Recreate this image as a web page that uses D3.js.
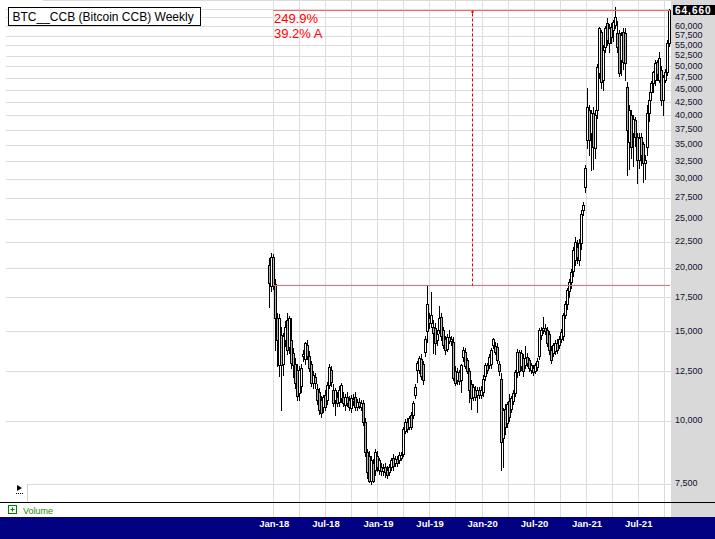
<!DOCTYPE html>
<html><head><meta charset="utf-8">
<script src="https://cdn.jsdelivr.net/npm/d3@7"></script>
<style>html,body{margin:0;padding:0;background:#fff;overflow:hidden}</style>
</head><body>
<svg id="c" width="715" height="539"></svg>
<script>
// ---------------- data ----------------
const title = "BTC__CCB (Bitcoin CCB) Weekly";
const firstWeek = Date.UTC(2017, 11, 18);   // weekly bars, Monday dates
const opens = [
20300,18400,21000,18600,15950,12850,14750,12900,14400,15800,
13950,14400,13600,12950,12600,11350,11700,13400,13200,14100,
13400,12900,11850,12200,11550,11400,11000,10650,11250,11000,
11750,12600,11500,11000,11150,10900,11100,11150,10750,11150,
11000,10600,11050,11150,10650,10900,10650,10850,9950,8650,
8500,7600,8250,8000,8500,8000,8100,7950,8100,8000,
7900,8100,8450,8250,8400,8350,8450,8600,9550,9950,
9700,10250,10250,11250,12600,12600,13200,12900,13650,15000,
15900,15600,15300,15200,14400,15100,16000,15100,14500,13850,
14600,14350,14300,12550,12000,12450,12000,13350,13650,13150,
12550,11800,11150,11500,11250,11500,11250,11400,12250,12850,
12850,12900,14100,14000,13950,12950,12050,9250,10550,9900,
10950,10550,10950,11350,12450,13650,12800,13300,12850,13350,
13150,12600,12700,12550,12750,13400,14750,15100,15250,15100,
14850,13800,13600,13700,14250,14100,14500,14650,16150,17000,
18000,18800,19700,20700,22000,20700,22400,26000,28900,35800,
41000,37000,40400,34500,41000,48500,58500,47000,54700,60900,
55500,59800,59000,60400,58300,58200,51500,58400,58200,45500,
35400,40100,37000,39200,36300,32700,36300,35100,32200,34700,
40400,44500,46300,47000,51000,47000,49200,42900,47000,48700,
55600];
const highs = [
20900,21400,21300,19000,16300,16200,15300,14900,15700,16300,
16100,15900,13900,13300,12900,12800,12900,13800,14300,14400,
13700,13100,12500,12400,11800,11600,11200,11250,11500,11900,
12950,12800,11800,11600,11400,11700,11850,11400,11300,11400,
11200,11250,11300,11400,11050,11100,11000,11000,10100,8800,
8700,8500,8400,8800,8700,8450,8250,8200,8250,8150,
8200,8450,8600,8500,8500,8650,8650,9700,10050,10100,
10200,10400,10950,11800,13100,13400,13500,13100,14700,18500,
16300,17900,15800,15600,15100,16800,16300,15300,14700,14800,
15100,14700,14600,12800,12700,12600,12900,13950,13900,13300,
12700,12000,11800,11700,11650,11650,11700,12300,13000,13000,
13500,13900,14550,14300,14200,13100,12400,10600,10800,10900,
11300,11200,11500,12600,13850,13800,13750,13500,14050,13600,
13300,13000,12850,13000,13300,15200,15300,16000,15500,15300,
15000,14000,14200,14400,14500,14700,15150,16300,17200,18300,
19000,19900,22000,23000,22700,22800,26000,27000,32000,45300,
42000,41000,41500,41000,50500,59800,59000,55000,60000,62300,
60500,61000,61800,65500,61500,59000,58500,59500,59500,46500,
42000,41000,40000,39800,37000,37000,37000,35500,33500,42000,
44500,46800,49000,51500,51500,53500,50000,48000,49500,56500,
64900];
const lows = [
16750,18000,18200,13800,12800,12250,10500,12300,14000,13500,
13600,12700,12200,11600,11000,11000,11400,13100,12900,13200,
12500,11700,11600,11600,10800,10300,10150,10400,10500,10800,
11600,11700,10700,10250,10700,10700,10900,10700,10500,10700,
10500,10400,10750,10500,10500,10600,10500,9800,8500,7700,
7550,7500,7550,7800,7950,7850,7800,7800,7750,7700,
7800,8000,8000,8150,8150,8250,8350,8500,9450,9500,
9600,9600,10100,11100,11900,12400,12100,11800,13400,14300,
15200,15300,13600,13500,14100,14900,14400,13900,13500,13700,
14200,14100,12000,11750,11800,11800,11400,13100,12700,12400,
10900,10550,11000,11000,10400,11100,11100,11200,12000,12400,
12700,12700,13900,13500,13000,12300,8000,8100,9400,9700,
10000,10400,10800,11200,12200,12300,12600,12250,12700,12800,
12500,12400,12300,12400,12600,13200,14500,14900,14800,14000,
13500,13000,13400,13500,13600,13900,14300,14400,15900,16600,
17500,18300,19300,20300,20500,20300,21800,25500,28200,34500,
33400,31200,31400,33000,39500,47500,45300,45000,53500,55000,
53500,55500,56000,59500,53500,47900,48000,49500,47000,30500,
31300,33000,31800,34800,29400,31500,32000,29600,30000,33500,
39000,43000,44500,46000,47000,46500,42000,40100,46500,48000,
54800];
const closes = [
18700,21000,18500,15950,14400,15900,12850,14700,15300,13800,
15900,13000,12850,11850,11200,12600,12700,13500,14200,13400,
12700,11850,12300,11850,11000,10500,10350,11150,10650,11750,
12750,11900,10850,11500,10850,11500,11750,10850,11150,10850,
10650,11100,10950,10650,10900,10700,10850,9950,8650,7900,
7600,8350,7600,8650,8100,8350,7950,8050,7900,7800,
8100,8350,8150,8400,8250,8550,8550,9600,9950,9600,
10100,9700,10850,11650,13000,13300,12250,12000,14500,17000,
15600,16150,14900,14250,14850,15950,14700,14100,13800,14600,
14350,14500,12150,11850,12450,11950,12850,13750,12800,12550,
11500,11100,11650,11150,11500,11250,11500,12100,12850,12600,
13350,13750,14500,13650,13150,12500,9050,10500,9700,10800,
10150,11100,11350,12450,13650,12550,13600,12550,13300,13000,
12700,12850,12450,12850,13100,15100,15100,15250,15000,14200,
13800,13150,14100,14250,13800,14500,14950,16150,16950,18100,
18800,19650,21700,22500,21000,22400,25600,26600,31500,41500,
35800,40400,34600,40100,49900,59500,46600,53900,59500,56400,
59600,57100,61100,62700,54700,48500,57700,51000,50800,37400,
41000,34600,39300,36300,32700,36100,33400,32200,32650,40400,
42900,46300,48800,50800,48200,51900,42900,47700,48700,55600,
64660];
const gridValues = [7500,10000,12500,15000,17500,20000,22500,25000,27500,30000,
  32500,35000,37500,40000,42500,45000,47500,50000,52500,55000,57500,60000,62500,65000];
const yLabelValues = [7500,10000,12500,15000,17500,20000,22500,25000,27500,30000,
  32500,35000,37500,40000,42500,45000,47500,50000,52500,55000,57500,60000];
const xLabelDates = [Date.UTC(2018,0,1),Date.UTC(2018,6,1),Date.UTC(2019,0,1),Date.UTC(2019,6,1),
  Date.UTC(2020,0,1),Date.UTC(2020,6,1),Date.UTC(2021,0,1),Date.UTC(2021,6,1)];
const lastPrice = 64660;
const measureLow = 18479;
const measureText = ["249.9%", "39.2% A"];
const volumeLabel = "Volume";

// ---------------- layout ----------------
const W = 715, H = 539;
const plotRight = 671, panelBottom = 502, volBottom = 517;
const svg = d3.select("#c");
const FONT = "'Liberation Sans', Arial, sans-serif";

const x = d3.scaleUtc().domain([Date.UTC(2018,0,1), Date.UTC(2021,6,1)]).range([273.3, 637.7]);
const y = d3.scaleLog().domain([10000, 20000]).range([420.5, 268]);
const crisp = v => Math.round(v) + 0.5;

const bars = closes.map((c, i) => ({
  date: new Date(firstWeek + i * 7 * 86400000),
  o: opens[i], h: highs[i], l: lows[i], c: c
}));

svg.append("rect").attr("width", W).attr("height", H).attr("fill", "#fff");
// right price panel
svg.append("rect").attr("x", plotRight).attr("y", 0).attr("width", W - plotRight)
  .attr("height", volBottom).attr("fill", "#d9d9d9");

// horizontal gridlines
const g = svg.append("g");
g.selectAll("line.h").data(gridValues).join("line")
  .attr("x1", 6).attr("x2", plotRight)
  .attr("y1", d => crisp(y(d))).attr("y2", d => crisp(y(d)))
  .attr("stroke", "#dcdcdc").attr("stroke-width", 1);
g.append("line").attr("x1", 43).attr("x2", plotRight).attr("y1", 0.5).attr("y2", 0.5)
  .attr("stroke", "#dcdcdc");

// vertical quarterly gridlines
const quarters = d3.utcMonth.every(3).range(new Date(Date.UTC(2018,0,1)), new Date(Date.UTC(2021,11,1)));
g.selectAll("line.v").data(quarters).join("line")
  .attr("x1", d => crisp(x(d))).attr("x2", d => crisp(x(d)))
  .attr("y1", 0).attr("y2", volBottom)
  .attr("stroke", "#dcdcdc").attr("stroke-width", 1);

// candles
const cg = svg.append("g");
bars.forEach(b => {
  const a = Math.round(x(b.date)) - 1;
  cg.append("line")
    .attr("x1", a + 1.5).attr("x2", a + 1.5)
    .attr("y1", Math.round(y(b.h))).attr("y2", Math.round(y(b.l)) + 1)
    .attr("stroke", "#000").attr("stroke-width", 1);
});
bars.forEach(b => {
  const a = Math.round(x(b.date)) - 1;
  const t = Math.round(y(Math.max(b.o, b.c))) + 0.5;
  const bt = Math.round(y(Math.min(b.o, b.c))) + 0.5;
  cg.append("rect")
    .attr("x", a + 0.5).attr("width", 2)
    .attr("y", t).attr("height", Math.max(bt - t, 1))
    .attr("fill", b.c >= b.o ? "#ffffff" : "#b4b4b4")
    .attr("stroke", "#000").attr("stroke-width", 1);
});

// measurement lines
const mx0 = 273, mx1 = plotRight - 1;
const yTop = crisp(y(lastPrice)), yLow = crisp(y(measureLow));
svg.append("line").attr("x1", mx0).attr("x2", mx1).attr("y1", yTop).attr("y2", yTop)
  .attr("stroke", "#f06a6a").attr("stroke-width", 1);
svg.append("line").attr("x1", mx0).attr("x2", mx1).attr("y1", yLow).attr("y2", yLow)
  .attr("stroke", "#f06a6a").attr("stroke-width", 1);
const mid = crisp((mx0 + mx1) / 2);
svg.append("line").attr("x1", mid).attr("x2", mid).attr("y1", yTop + 3).attr("y2", yLow)
  .attr("stroke", "#e00000").attr("stroke-width", 1).attr("stroke-dasharray", "3,2");
svg.append("path").attr("d", `M${mid-1.5},${yTop+1.5}H${mid+1.5}M${mid},${yTop}V${yTop+3}`)
  .attr("stroke", "#e00000").attr("stroke-width", 1);
svg.selectAll("text.m").data(measureText).join("text")
  .attr("x", 274).attr("y", (d, i) => 23 + i * 15)
  .attr("fill", "#ff0000").attr("font-family", FONT).attr("font-size", 13)
  .text(d => d);

// title box
svg.append("rect").attr("x", 8.5).attr("y", 7.5).attr("width", 192).attr("height", 18)
  .attr("fill", "#fff").attr("stroke", "#000");
svg.append("text").attr("x", 12.5).attr("y", 20.5).attr("font-family", FONT)
  .attr("font-size", 12).attr("fill", "#000").text(title);

// y axis labels
const yAxis = d3.axisRight(y).tickValues(yLabelValues).tickFormat(d3.format(",")).tickSize(0).tickPadding(0);
const ya = svg.append("g").attr("transform", "translate(675,-1)").call(yAxis);
ya.select(".domain").remove();
ya.selectAll("text").attr("font-family", FONT).attr("font-size", 9).attr("fill", "#101030");

// last price box
svg.append("rect").attr("x", 673).attr("y", 5).attr("width", 42).attr("height", 10).attr("fill", "#000");
svg.append("text").attr("x", 675).attr("y", 13.5).attr("font-family", FONT).attr("font-size", 10)
  .attr("font-weight", "bold").attr("letter-spacing", 1).attr("fill", "#fff")
  .text(d3.format(",")(lastPrice));

// bottom separators
svg.append("rect").attr("x", 0).attr("y", panelBottom + 1).attr("width", plotRight)
  .attr("height", volBottom - panelBottom - 1).attr("fill", "none");
svg.append("line").attr("x1", 0).attr("x2", W).attr("y1", panelBottom + 0.5).attr("y2", panelBottom + 0.5)
  .attr("stroke", "#000");

// small scroll button
svg.append("rect").attr("x", 6).attr("y", 484).attr("width", 21).attr("height", 18).attr("fill", "#fff");
svg.append("line").attr("x1", 27.5).attr("x2", 27.5).attr("y1", 484).attr("y2", 502).attr("stroke", "#d0d0d0");
svg.append("path").attr("d", "M17,485L17,491L22,488Z").attr("fill", "#000");
svg.append("line").attr("x1", 16).attr("x2", 23).attr("y1", 493.5).attr("y2", 493.5)
  .attr("stroke", "#000").attr("stroke-dasharray", "1,1");

// volume label
svg.append("rect").attr("x", 8.5).attr("y", 505.5).attr("width", 8).attr("height", 8)
  .attr("fill", "none").attr("stroke", "#008000");
svg.append("path").attr("d", "M10.5,509.5H14.5M12.5,507.5V511.5").attr("stroke", "#008000");
svg.append("text").attr("x", 23).attr("y", 513.5).attr("font-family", FONT).attr("font-size", 9)
  .attr("fill", "#1a8a00").text(volumeLabel);

// navy date axis
svg.append("rect").attr("x", 0).attr("y", volBottom).attr("width", W).attr("height", H - volBottom).attr("fill", "#000080");
const xAxis = d3.axisBottom(x).tickValues(xLabelDates.map(d => new Date(d)))
  .tickFormat(d3.utcFormat("%b-%y")).tickSize(0).tickPadding(0);
const xa = svg.append("g").attr("transform", `translate(0.5,${volBottom + 3})`).call(xAxis);
xa.select(".domain").remove();
xa.selectAll("text").attr("font-family", FONT).attr("font-size", 9.5).attr("fill", "#fff")
  .attr("font-weight", "bold");
</script>
</body></html>
